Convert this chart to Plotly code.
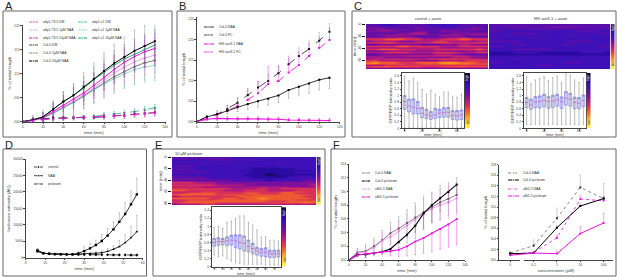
import plotly.graph_objects as go

W, H = 617, 277
FONT = "Liberation Sans"
MAG = "#f010e0"
LMAG = "#f070ec"
GRN = "#10a868"
LGRN = "#60c8a0"
GRAY = "#666666"
BLK = "#000000"

# ---------- Panel A ----------
time_min = [0, 10, 20, 30, 40, 50, 60, 70, 80, 90, 100, 110, 120, 130]
a_td1_dm = [100, 100.2, 100.5, 100.6, 100.7, 100.8, 100.9, 101, 101.1, 101.2, 101.3, 101.5, 101.7, 101.9]
a_td1_1 = [100, 100.3, 100.8, 102, 103.1, 104.2, 105.6, 107, 108.7, 110.2, 111.4, 112.5, 113.3, 113.9]
a_td1_10 = [100, 100.3, 100.9, 102.2, 103.4, 104.7, 106, 107.6, 109.3, 110.9, 112.4, 113.6, 114.6, 115.3]
a_c1_dm = [100, 100.4, 100.5, 100.7, 100.7, 100.8, 100.9, 101.1, 101.4, 101.6, 101.8, 102.1, 102.5, 102.9]
a_c1_1 = [100, 100.2, 100.7, 101.7, 102.8, 104, 105.2, 106.6, 107.9, 109, 110, 110.9, 111.4, 111.8]
a_c1_10 = [100, 100.3, 101, 102.6, 104.2, 105.5, 107, 108.8, 110.3, 111.8, 113.1, 114.1, 115.1, 116]
a_col_dm = [100, 100.4, 100.6, 100.8, 100.8, 100.8, 100.9, 100.9, 101, 101.2, 101.3, 101.6, 101.7, 101.9]
a_col_1 = [100, 100.3, 100.8, 101.8, 103, 104.1, 105.4, 106.8, 108.1, 109.4, 110.5, 111.5, 112.3, 112.8]
a_col_10 = [100, 100.4, 101, 102.6, 104.2, 105.5, 107.3, 108.9, 110.6, 112.2, 113.5, 114.8, 115.8, 116.8]
a_err_dm = [0, 0.5, 0.4, 0.4, 0.4, 0.4, 0.4, 0.4, 0.5, 0.5, 0.6, 0.6, 0.7, 0.7]
a_err_col = [0, 0.9, 1.4, 1.8, 2.1, 2.5, 3, 3.4, 3.8, 4, 4.2, 4.4, 4.4, 4.2]
a_err_td1 = [0, 0.6, 1.1, 2, 2.5, 3, 2.8, 3, 3.2, 3.4, 3.5, 3.5, 3.6, 3.6]
a_err_c1 = [0, 0.5, 0.9, 1.5, 2, 2.2, 2.4, 2.6, 2.8, 3, 3, 3.2, 3.2, 3.2]

# ---------- Panel B ----------
b_col_naa = [100, 101.2, 101.8, 102.7, 103.5, 104.3, 105, 105.6, 106.4, 107.7, 108.5, 109.3, 110.2, 110.7]
b_col_fc = [100, 101.2, 101.8, 103.1, 104.6, 106.5, 108.3, 109.9, 111.8, 114, 116, 117.7, 119.7, 121.9]
b_hs_naa = [100, 100.6, 100.8, 100.7, 100.7, 100.7, 100.7, 100.6, 100.6, 100.4, 100.4, 100.3, 100.3, 100.3]
b_hs_fc = [100, 100.8, 101.8, 102.6, 103.9, 105.3, 106.9, 109.2, 109.9, 112, 113.8, 116, 118, 119.9]
b_col_naa_err = [0, 0.4, 0.6, 0.8, 1, 1.3, 1.5, 1.6, 1.7, 2, 2.2, 2.4, 2.5, 2.6]
b_col_fc_err = [0, 0.4, 0.6, 0.8, 1, 1.2, 1.4, 1.6, 1.8, 2, 2, 2, 2, 2]
b_hs_naa_err = [0, 0.3, 0.5, 0.5, 0.5, 0.5, 0.5, 0.5, 0.5, 0.5, 0.5, 0.5, 0.5, 0.5]
b_hs_fc_err = [0, 0.4, 0.9, 1.4, 2, 2.8, 3, 4.2, 3.6, 3.5, 3.2, 3, 2.6, 3]

# ---------- Panel C / E heatmaps: one digit per cell (colour-table step) ----------
heat_control = ["33222333332222233333", "33333333333322233332", "44433333433333333443", "33554443333343344433",
                "44444333443344433333", "33333445553333444444", "44555544444455544555", "33344444333344443333",
                "55555665544445566555", "66677766655566677666", "45555444555665555455", "77787666667777666777",
                "33444444433344455444", "66666776666655566666", "44444444555544444444", "66777666555666666676",
                "33334444444443334444", "55566665555666655566", "33444444444555443333", "44455566666666666555",
                "55544444444444555444", "45566666667777766665", "66555555444455556666", "78777666777788877766",
                "88777766677788888777", "55566666666666666666", "78887777766677787777", "44444444444444444444"]
heat_axr3 = ["33333333333333333333", "22233333334444433333", "33333333333333333333", "22222233333322222222",
             "33222222222222333322", "22223333222222222233", "33333222222233322222", "22222222222222222222",
             "33222233332222222222", "22222222222222222222", "33333222222223333222", "22222222222222222222",
             "22223322222233222222", "33222222222222222233", "22222222222222222222", "22223333332222222222",
             "22222222222222222222", "11112222111111122221", "11111111111111111111", "22222222222222222222",
             "22222222222222222222", "22223322222222222222", "22222222222222222222", "33222222222233322222",
             "22222222222222222222", "22222222332222222222", "22222222222222222222", "22222222222222222222"]
heat_picloram = ["33333333222222222222", "22222333333322222222", "22222222222222222222", "33333333222222332222",
                 "22222222222222222222", "33322222222222222222", "22222222222111122222", "33322222222111111222",
                 "22222222211111111111", "33333222222111111222", "22222222221110111111", "33222222221111011222",
                 "33333222222111112222", "44444333333222222333", "33333333222221222233", "66655544444444444444",
                 "55555544444433344445", "66666655554444444445", "55554444445555554444", "66666666555565566666",
                 "77666665556665555666", "55556666666666677766", "66777766667766677666", "78777767776777777776",
                 "56666666677777777766", "77777667767787777776", "56666677777777777666", "66777777777776667777",
                 "67777766666667777787", "45556655555555555555"]
lut_steps = [[0, 0], [1, 1], [2, 2], [3, 3], [4, 4], [5, 5], [6, 6], [7, 7], [8, 8], [9, 9], [10, 10]]
LUT = [[0.0, "#100840"], [0.1, "#2a0aa0"], [0.2, "#3d10b8"], [0.3, "#5a0eaa"], [0.4, "#80109a"],
       [0.5, "#b01a80"], [0.6, "#d83058"], [0.7, "#f05a30"], [0.8, "#f89020"], [0.9, "#fcc840"], [1.0, "#fff040"]]

# ---------- Box plots ----------
box5_x = [0, 5, 10, 15, 20, 25, 30, 35, 40, 45, 50, 55, 60, 65]
c1_q1 = [.58, .5, .44, .44, .33, .3, .27, .3, .33, .34, .34, .27, .25, .27]
c1_med = [.82, .68, .64, .61, .46, .41, .38, .41, .46, .48, .49, .39, .38, .41]
c1_q3 = [1.0, .89, .9, .82, .64, .58, .51, .61, .58, .63, .64, .54, .54, .56]
c1_hi = [1.6, 1.45, 1.53, 1.4, 1.19, 1.04, 1.17, 1.04, .97, 1.11, 1.11, .97, .95, 1.05]
c1_lo = [.02, .02, .02, .02, .02, .02, .02, .02, .02, .02, .02, .02, .02, .02]
c2_q1 = [.63, .58, .63, .62, .66, .61, .64, .68, .61, .71, .68, .6, .6, .66]
c2_med = [.79, .71, .81, .82, .85, .82, .83, .87, .81, .92, .89, .79, .77, .85]
c2_q3 = [.94, .89, .97, .99, 1.04, .97, 1.01, 1.04, .96, 1.12, 1.07, .95, .94, 1.02]
c2_hi = [1.58, 1.36, 1.48, 1.52, 1.58, 1.46, 1.55, 1.6, 1.4, 1.7, 1.63, 1.48, 1.4, 1.54]
c2_lo = [.12, .12, .12, .12, .12, .12, .12, .12, .12, .12, .12, .12, .12, .12]
e_x = [0, 5, 10, 15, 20, 25, 30, 35, 40, 45, 50, 55, 60, 65, 70, 75]
e_q1 = [.51, .53, .54, .52, .54, .47, .44, .39, .37, .33, .29, .26, .25, .23, .23, .24]
e_med = [.6, .62, .62, .64, .66, .64, .6, .58, .5, .45, .39, .36, .36, .32, .32, .32]
e_q3 = [.7, .72, .7, .74, .78, .79, .79, .76, .66, .58, .48, .45, .47, .41, .41, .41]
e_hi = [.98, 1.0, .95, 1.1, 1.13, 1.2, 1.26, 1.26, 1.1, 1.03, .91, .74, .74, .66, .66, .64]
e_lo = [.29, .25, .27, .2, .14, .1, .08, .06, .06, .06, .06, .06, .04, .04, .04, .04]

# ---------- Panel D ----------
d_time = [6, 9, 12, 15, 18, 21, 24, 27, 30, 33, 36, 39, 42, 45, 48, 51, 54, 57]
d_control = [1900, 1300, 1200, 1100, 1050, 1000, 1000, 950, 950, 950, 900, 900, 900, 850, 850, 850, 800, 800]
d_naa = [2300, 1400, 1200, 1100, 1000, 1000, 1000, 1300, 2000, 2840, 3850, 5070, 6700, 8600, 10900, 13270, 16200, 19250]
d_picloram = [2100, 1400, 1150, 1050, 1000, 1000, 1000, 1100, 1200, 1200, 1300, 1500, 1900, 2530, 3340, 4560, 6080, 7900]
d_naa_err = [500, 250, 200, 200, 200, 200, 200, 500, 1340, 1500, 1500, 2000, 2200, 2300, 2800, 3550, 4100, 4900]
d_pic_err = [400, 250, 200, 200, 200, 200, 200, 200, 200, 300, 500, 600, 900, 1100, 1900, 2500, 3500, 5000]

# ---------- Panel F ----------
f_col_naa = [100, 101.1, 101.3, 102, 102.9, 103.9, 104.6, 105.4, 106.2, 107, 107.7, 108.4, 108.9, 109.5]
f_col_pic = [100, 100.8, 100.8, 101, 101.2, 101.6, 102.6, 103.7, 105, 106.8, 108, 109, 109.9, 111]
f_afb_naa = [100, 101, 101.2, 101.8, 102.8, 103.4, 104.2, 105, 105.9, 106.8, 107.5, 108, 108.4, 109]
f_afb_pic = [100, 100.7, 100.9, 101, 101.2, 101.3, 101.5, 102, 102.7, 103.2, 103.9, 104.5, 105.2, 106]
f_col_naa_err = [0, .6, 1, 1.2, 1.4, 1.6, 1.7, 1.9, 2.1, 2.3, 2.2, 2.5, 2.4, 2.5]
f_col_pic_err = [0, .3, .4, .4, .4, .5, .8, 1.2, 1.9, 2.4, 2.4, 1.9, 1.5, 1.2]
f_afb_naa_err = [0, .5, .8, 1, 1.2, 1.4, 1.5, 1.7, 1.9, 2.1, 2.2, 2.3, 2.4, 2.4]
f_afb_pic_err = [0, .2, .2, .2, .3, .7, 1.0, 1.4, 1.9, 2.2, 2.7, 2.9, 3.3, 3.8]
conc_labels = ["0", "0.1", "1", "10", "100"]
g_col_naa = [101.3, 102.7, 107.9, 113.7, 111.6]
g_col_pic = [101.2, 101.3, 106.1, 110.2, 111.6]
g_afb_naa = [101.1, 101.4, 104.2, 111.5, 111.2]
g_afb_pic = [100.9, 101.3, 101.2, 105, 107]
g_col_naa_err = [.3, 1.1, 1.9, 2.4, 2.9]
g_col_pic_err = [.2, .2, .3, .4, .4]
g_afb_naa_err = [.2, .2, .5, .6, .6]
g_afb_pic_err = [.1, .1, .5, 1.3, 1.8]

fig = go.Figure()
layout = dict(width=W, height=H, margin=dict(l=0, r=0, t=0, b=0), autosize=False,
              paper_bgcolor="white", plot_bgcolor="rgba(0,0,0,0)", showlegend=False,
              font=dict(family=FONT, size=4, color="#222"))
shapes, annots = [], []
ax_n = [0]


def axes(px, xr, yr, xkw=None, ykw=None):
    ax_n[0] += 1
    n = ax_n[0]
    s = "" if n == 1 else str(n)
    base = dict(showgrid=False, zeroline=False, showline=True, linecolor="#444", linewidth=0.5,
                ticks="outside", ticklen=1.5, tickwidth=0.4, tickcolor="#444", automargin=False,
                tickfont=dict(size=3.4, color="#444", family=FONT))
    xa = dict(base, domain=[px[0] / W, px[1] / W], range=xr, anchor="y" + s)
    ya = dict(base, domain=[1 - px[3] / H, 1 - px[2] / H], range=yr, anchor="x" + s)
    xa.update(xkw or {})
    ya.update(ykw or {})
    layout["xaxis" + s] = xa
    layout["yaxis" + s] = ya
    return "x" + s, "y" + s


def title(text, size=4.4, standoff=2):
    return dict(title=dict(text=text, font=dict(size=size, color="#444", family=FONT), standoff=standoff))


def series(ax, x, y, color, width=0.7, dash="solid", sym="square", ms=2.0, up=None, down=None, ecolor=None):
    err = None
    if up is not None or down is not None:
        zero = [0] * len(y)
        err = dict(type="data", symmetric=False, array=up if up is not None else zero,
                   arrayminus=down if down is not None else zero,
                   color=ecolor or color, thickness=0.4, width=0.8)
    fig.add_trace(go.Scatter(x=x, y=y, mode="lines+markers", xaxis=ax[0], yaxis=ax[1], error_y=err,
                             line=dict(color=color, width=width, dash=dash),
                             marker=dict(color=color, size=ms, symbol=sym)))


def heat(px, rows, yrange=None, ykw=None):
    ax = axes(px, [0, 1], yrange or [1, 0], dict(visible=False), ykw or dict(visible=False))
    z = [[int(c) for c in r] for r in rows]
    top, bot = (yrange[1], yrange[0]) if yrange else (0, 1)
    fig.add_trace(go.Heatmap(z=z, x0=0.025, dx=0.05, y0=top + (bot - top) / len(z) / 2, dy=(bot - top) / len(z),
                             colorscale=LUT, zmin=0, zmax=10, showscale=False, zsmooth="best",
                             xaxis=ax[0], yaxis=ax[1], hoverinfo="skip"))


def lutbar(px, low_y=0.88, high_y=0.1):
    ax = axes(px, [0, 1], [1, 0], dict(visible=False), dict(visible=False))
    fig.add_trace(go.Heatmap(z=lut_steps, x0=0.25, dx=0.5, y0=0.05, dy=0.09, colorscale=LUT, zmin=0, zmax=10,
                             showscale=False, zsmooth="best", xaxis=ax[0], yaxis=ax[1], hoverinfo="skip"))
    cx = (px[0] + px[1]) / 2
    h = px[3] - px[2]
    note(cx, px[2] + high_y * h, "high", size=3.2, color="#fff", rot=-90)
    note(cx, px[2] + low_y * h, "low", size=3.2, color="#222", rot=-90)


def boxes(px, x, q1, med, q3, hi, lo, xr, yr, xticks, width, title_y):
    ax = axes(px, xr, yr,
              dict(tickvals=xticks, mirror=True, ticklabelstandoff=-3),
              dict(dtick=0.2, tickformat="~g", mirror=True, **title("GFP/RFP intensity ratio", standoff=1)))
    note((px[0] + px[1]) / 2, title_y, "time (min)", size=4, color="#444")
    up = [a - b for a, b in zip(hi, med)]
    dn = [a - b for a, b in zip(med, lo)]
    fig.add_trace(go.Scatter(x=x, y=med, mode="markers", xaxis=ax[0], yaxis=ax[1], marker=dict(size=0.1, color="#777"),
                             error_y=dict(type="data", symmetric=False, array=up, arrayminus=dn,
                                          color="#777", thickness=0.5, width=0.7)))
    fig.add_trace(go.Box(x=x, q1=q1, median=q3, q3=q3, lowerfence=q1, upperfence=q3, width=width,
                         xaxis=ax[0], yaxis=ax[1], line=dict(color="#6a6ae8", width=0.6), fillcolor="#f3f3ff",
                         boxpoints=False, whiskerwidth=0))
    fig.add_trace(go.Scatter(x=x, y=med, mode="markers", xaxis=ax[0], yaxis=ax[1],
                             marker=dict(symbol="line-ew", size=2.4, line=dict(color="#d040b0", width=0.6))))


def note(x, y, text, size=3.6, color="#333", anchor="center", rot=0):
    annots.append(dict(x=x / W, y=1 - y / H, xref="paper", yref="paper", text=text, showarrow=False,
                       xanchor=anchor, yanchor="middle", textangle=rot,
                       font=dict(size=size, color=color, family=FONT)))


def panel(x0, y0, x1, y1, letter, lx, ly):
    shapes.append(dict(type="rect", xref="paper", yref="paper", x0=x0 / W, x1=x1 / W, y0=1 - y1 / H, y1=1 - y0 / H,
                       line=dict(color=GRAY, width=1), layer="below"))
    note(lx, ly, letter, size=11, color="#222", anchor="left")


key_items = []


def key(x0, x1, tx, y, label, color, width=0.7, dash="solid", sym="square", ms=2.0):
    key_items.append((x0, x1, y, color, width, dash, sym, ms))
    note(tx, y, label, anchor="left", size=3.4)


# ---------- Panel frames ----------
panel(3, 11, 172, 137, "A", 2.5, 6)
panel(177, 11, 345, 137, "B", 177, 6)
panel(352, 11, 616, 137, "C", 351.5, 6)
panel(3, 149, 146.5, 276, "D", 2.5, 144.5)
panel(153, 149, 325, 276, "E", 152.5, 144.5)
panel(331, 149, 616, 276, "F", 331, 144.5)

# ---------- A ----------
axA = axes([22.7, 165, 25, 121.7], [0, 140], [100, 120.2],
           dict(dtick=20, **title("time (min)")), dict(tickvals=[100, 105, 110, 115, 120], **title("% of initial length")))
series(axA, time_min, a_col_1, "#444", up=a_err_td1, down=a_err_td1, ecolor="#999")
series(axA, time_min, a_c1_1, LGRN, up=a_err_c1, down=a_err_c1)
series(axA, time_min, a_td1_1, LMAG, up=a_err_td1, down=a_err_td1)
series(axA, time_min, a_c1_10, GRN, 0.9, up=a_err_c1, down=a_err_c1)
series(axA, time_min, a_td1_10, MAG, 1.0, up=a_err_c1, down=a_err_c1)
series(axA, time_min, a_col_10, BLK, 1.0, up=a_err_col, down=a_err_col, ecolor="#777")
series(axA, time_min, a_c1_dm, GRN, 0.7, "dash", up=a_err_dm, down=a_err_dm)
series(axA, time_min, a_col_dm, BLK, 0.7, "dash", up=a_err_dm, down=a_err_dm, ecolor="#777")
series(axA, time_min, a_td1_dm, MAG, 0.8, "dash", up=a_err_dm, down=a_err_dm)
for lab, y, c, w, d in [("abp1-TD1 DM", 22, MAG, .7, "dash"), ("abp1-TD1 1µM NAA", 30, LMAG, .6, "solid"),
                        ("abp1-TD1 10µM NAA", 38, MAG, 1, "solid"), ("Col-0 DM", 45, BLK, .7, "dash"),
                        ("Col-0 1µM NAA", 53, "#444", .6, "solid"), ("Col-0 10µM NAA", 61, BLK, 1, "solid")]:
    key(29, 38, 41, y, lab, c, w, d)
for lab, y, c, w, d in [("abp1-c1 DM", 22, GRN, .7, "dash"), ("abp1-c1 1µM NAA", 30, LGRN, .6, "solid"),
                        ("abp1-c1 10µM NAA", 38, GRN, 1, "solid")]:
    key(78, 87, 90, y, lab, c, w, d)

# ---------- B ----------
axB = axes([196.7, 339.7, 17, 121.7], [0, 140], [100, 125.5],
           dict(dtick=20, **title("time (min)")), dict(dtick=5, **title("% of initial length")))
series(axB, time_min, b_col_fc, BLK, 0.7, "dash", up=b_col_fc_err, ecolor="#888")
series(axB, time_min, b_hs_fc, MAG, 0.8, "dash", up=b_hs_fc_err)
series(axB, time_min, b_col_naa, BLK, 0.8, down=b_col_naa_err, ecolor="#666")
series(axB, time_min, b_hs_naa, MAG, 1.1, up=b_hs_naa_err, down=b_hs_naa_err)
key(204, 214, 217, 27, "Col-0 NAA", BLK, .8)
key(204, 214, 217, 35, "Col-0 FC", BLK, .7, "dash")
key(204, 214, 217, 44, "HS::axr3-1 NAA", MAG, 1.1)
key(204, 214, 217, 52, "HS::axr3-1 FC", MAG, .8, "dash")

# ---------- C ----------
heat([366, 488, 24, 69], heat_control, [75, 0],
     dict(tickvals=[0, 20, 40, 60], tickangle=-90, ticklen=3, tickwidth=0.8, showline=False, tickcolor="#111",
          **title("time (min)", standoff=1)))
heat([489, 610, 24, 69], heat_axr3)
lutbar([610.5, 615, 24, 69])
note(428, 19, "control + auxin", size=4)
note(550, 19, "HS::axr3-1 + auxin", size=4)
boxes([402, 464, 72.7, 128.3], box5_x, c1_q1, c1_med, c1_q3, c1_hi, c1_lo, [-3, 68], [0, 1.7], [0, 20, 40, 60], 3.2, 134.6)
lutbar([465, 470, 72.7, 128.3])
boxes([524, 586, 72.7, 128.3], box5_x, c2_q1, c2_med, c2_q3, c2_hi, c2_lo, [-3, 68], [0, 1.7], [0, 20, 40, 60], 3.2, 134.6)
lutbar([586.5, 591, 72.7, 128.3])

# ---------- D ----------
axD = axes([25.7, 142.7, 159, 257.7], [0, 60], [0, 30000],
           dict(dtick=10, **title("time (min)")),
           dict(dtick=5000, tickformat="d", **title("luciferase intensity (AU)")))
series(axD, d_time, d_naa, BLK, 0.8, up=d_naa_err, ecolor="#777", ms=2.4)
series(axD, d_time, d_picloram, BLK, 0.8, sym="triangle-up", up=d_pic_err, ecolor="#777", ms=2.4)
series(axD, d_time, d_control, BLK, 0.7, "dash", sym="diamond", ms=2.4)
key(34, 43, 46, 167, "control", BLK, .7, "dash", "diamond", 2.4)
key(34, 43, 46, 175.7, "NAA", BLK, .8, ms=2.4)
key(34, 43, 46, 184, "picloram", BLK, .8, sym="triangle-up", ms=2.4)

# ---------- E ----------
heat([172, 316, 157, 205], heat_picloram, [83, 0],
     dict(tickvals=[0, 20, 40, 60, 80], tickangle=-90, ticklen=3, tickwidth=1, showline=False, tickcolor="#111",
          **title("time (min)", standoff=1)))
lutbar([316.5, 321, 157, 205])
note(173, 153, "10 µM picloram", anchor="left", size=4)
boxes([212, 281, 207, 266.7], e_x, e_q1, e_med, e_q3, e_hi, e_lo, [-2.5, 78], [0, 1.48], [0, 10, 20, 30, 40, 50, 60, 70], 3.2, 273.6)
lutbar([282, 286.5, 207, 266.7])

# ---------- F left ----------
axF = axes([349, 465, 164, 260], [0, 140], [100, 114],
           dict(dtick=20, **title("time (min)")), dict(dtick=2, **title("% of initial length")))
series(axF, time_min, f_col_naa, "#333", 0.6, up=f_col_naa_err, down=f_col_naa_err, ecolor="#777", ms=1.8)
series(axF, time_min, f_afb_naa, LMAG, 0.7, up=f_afb_naa_err, down=f_afb_naa_err, ms=1.8)
series(axF, time_min, f_col_pic, BLK, 1.1, down=f_col_pic_err, ecolor="#666")
series(axF, time_min, f_afb_pic, MAG, 1.1, down=f_afb_pic_err, ms=1.8)
key(362, 370, 373, 173, "Col-0 NAA", "#333", .6, ms=1.8)
key(362, 370, 373, 181, "Col-0 picloram", BLK, 1.1)
key(362, 370, 373, 189, "afb5-5 NAA", LMAG, .7, ms=1.8)
key(362, 370, 373, 197, "afb5-5 picloram", MAG, 1.1, ms=1.8)

# ---------- F right ----------
axG = axes([499, 613, 164.7, 260], [-0.48, 4.4], [100, 118],
           dict(type="linear", tickvals=[0, 1, 2, 3, 4], ticktext=conc_labels, **title("concentration (µM)")),
           dict(dtick=2, **title("% of initial length")))
cx = [0, 1, 2, 3, 4]
series(axG, cx, g_col_naa, "#333", 0.6, "dot", up=g_col_naa_err, ecolor="#888")
series(axG, cx, g_afb_naa, MAG, 0.8, "dot", up=g_afb_naa_err, ms=1.8)
series(axG, cx, g_col_pic, BLK, 1.0, up=g_col_pic_err, ecolor="#666")
series(axG, cx, g_afb_pic, MAG, 1.0, up=g_afb_pic_err, ms=1.8)
shapes.append(dict(type="rect", xref="x%d" % ax_n[0], yref="paper", x0=0.42, x1=0.58,
                   y0=1 - 261.5 / H, y1=1 - 259 / H, fillcolor="white", line=dict(width=0), layer="above"))
key(508, 519, 521, 173, "Col-0 NAA", "#333", .6, "dot")
key(508, 519, 521, 180, "Col-0 picloram", BLK, 1.0)
key(508, 519, 521, 189, "afb5-5 NAA", MAG, .8, "dot", ms=1.8)
key(508, 519, 521, 196, "afb5-5 picloram", MAG, 1.0, ms=1.8)

# ---------- legend samples on a full-page overlay axis ----------
ovl = axes([0, W, 0, H], [0, W], [H, 0], dict(visible=False), dict(visible=False))
for x0, x1, y, c, w, d, sym, ms in key_items:
    fig.add_trace(go.Scatter(x=[x0, (x0 + x1) / 2, x1], y=[y, y, y], mode="lines+markers", xaxis=ovl[0], yaxis=ovl[1],
                             line=dict(color=c, width=w, dash=d), marker=dict(color=c, size=[0.1, ms, 0.1], symbol=sym),
                             hoverinfo="skip"))

layout["shapes"] = shapes
layout["annotations"] = annots
fig.update_layout(**layout)
fig.write_html("out.html", config=dict(displayModeBar=False),
               post_script="document.body.style.margin='0';document.body.style.overflow='hidden';")
